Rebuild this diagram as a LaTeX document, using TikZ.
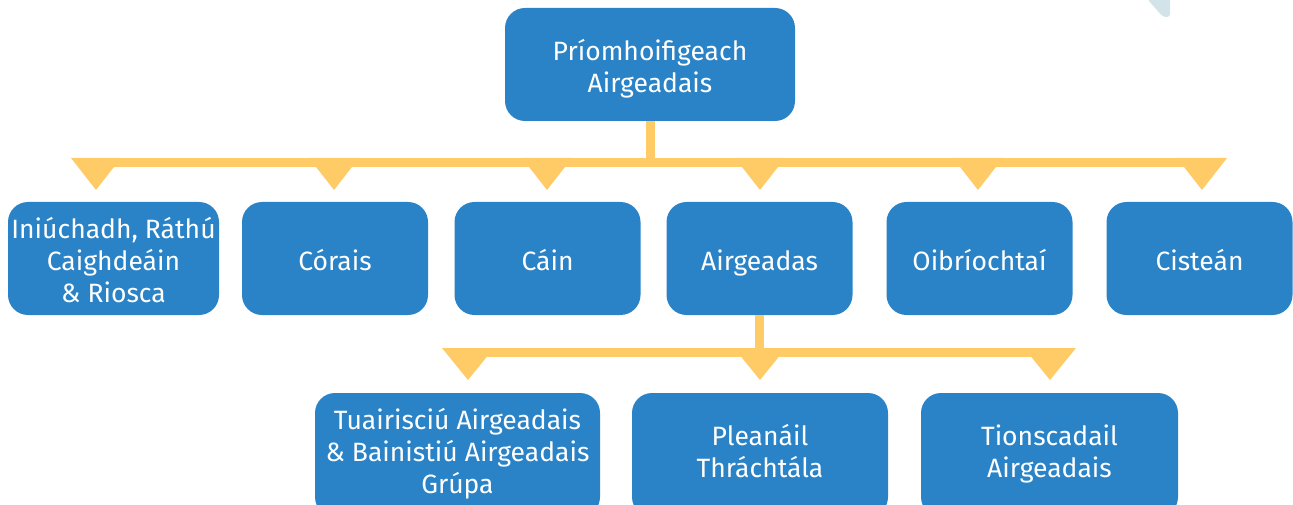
\documentclass[tikz,border=0pt]{standalone}
\usepackage{fontspec}
\setmainfont{Fira Sans}
\definecolor{boxblue}{HTML}{2A83C7}
\definecolor{linkyel}{HTML}{FECB66}
\definecolor{cornerblue}{HTML}{D2E4EA}
\newcommand{\lowered}[2]{\raisebox{#1}[0pt][0pt]{\begin{tabular}{@{}c@{}}#2\end{tabular}}}
\begin{document}
\begin{tikzpicture}[x=1pt,y=-1pt,
  unit/.style={fill=boxblue, rounded corners=20pt, text=white, align=center,
    font=\fontsize{26.5}{32}\selectfont, inner sep=0pt},
  link/.style={fill=linkyel, draw=none},
  tri/.style={fill=linkyel, draw=none}]
\useasboundingbox (0,0) rectangle (1293,505);
\fill[cornerblue, rounded corners=3pt] (1148,-5) -- (1148,0) -- (1163,17) -- (1170,17) -- (1170,-5) -- cycle;
% top
\node[unit, minimum width=290pt, minimum height=113pt] (cfo) at (650,64.5) {\lowered{-12pt}{Príomhoifigeach\\Airgeadais}};
% row 1
\node[unit, minimum width=211pt, minimum height=113pt] (a1) at (113.5,258.5) {\lowered{-11.5pt}{Iniúchadh, Ráthú\\Caighdeáin\\\& Riosca}};
\node[unit, minimum width=186pt, minimum height=113pt] (a2) at (335,258.5) {\lowered{-11.5pt}{Córais}};
\node[unit, minimum width=186pt, minimum height=113pt] (a3) at (547.5,258.5) {\lowered{-11.5pt}{Cáin}};
\node[unit, minimum width=186pt, minimum height=113pt] (a4) at (759.5,258.5) {\lowered{-11.5pt}{Airgeadas}};
\node[unit, minimum width=186pt, minimum height=113pt] (a5) at (979.5,258.5) {\lowered{-11.5pt}{Oibríochtaí}};
\node[unit, minimum width=186pt, minimum height=113pt] (a6) at (1199.5,258.5) {\lowered{-11.5pt}{Cisteán}};
% row 2
\node[unit, minimum width=285pt, minimum height=124pt] (b1) at (457.5,455) {\lowered{-6.6pt}{Tuairisciú Airgeadais\\\& Bainistiú Airgeadais\\Grúpa}};
\node[unit, minimum width=256pt, minimum height=124pt] (b2) at (760,455) {\lowered{-6.6pt}{Pleanáil\\Thráchtála}};
\node[unit, minimum width=257pt, minimum height=124pt] (b3) at (1049.5,455) {\lowered{-6.6pt}{Tionscadail\\Airgeadais}};
% bar 1
\coordinate (bar1l) at (78,158);
\coordinate (bar1r) at (1190,167);
\fill[link] ([xshift=-4.5pt]cfo.south) rectangle ([xshift=4.5pt]cfo.south |- bar1r);
\fill[link] (bar1l) rectangle (bar1r);
\foreach \c/\n in {96/a1,334/a2,547/a3,760/a4,978/a5,1202/a6}{
  \fill[tri] (\c-25,158) -- (\c+25,158) -- (\c,190) -- cycle;
}
% bar 2
\coordinate (bar2l) at (470,348);
\coordinate (bar2r) at (1050,357);
\fill[link] ([xshift=-4.5pt]a4.south) rectangle ([xshift=4.5pt]a4.south |- bar2r);
\fill[link] (bar2l) rectangle (bar2r);
\foreach \c in {468,760,1050}{
  \fill[tri] (\c-26,348) -- (\c+26,348) -- (\c,380) -- cycle;
}
\end{tikzpicture}
\end{document}
